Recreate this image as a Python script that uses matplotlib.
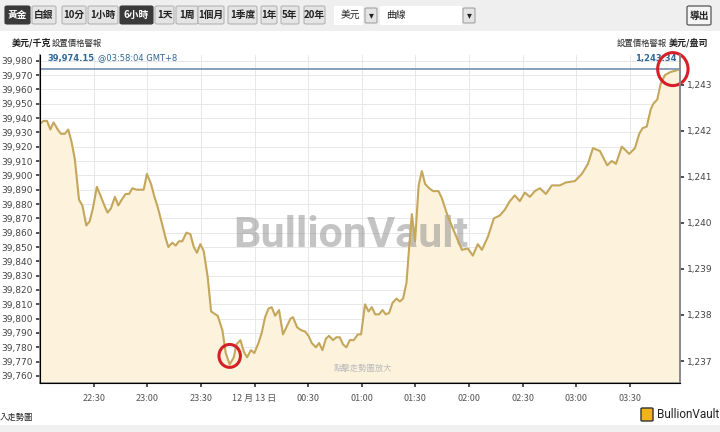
import matplotlib
matplotlib.use('Agg')
import matplotlib.pyplot as plt
from matplotlib.patches import FancyBboxPatch, Ellipse, Rectangle

cjk = ['Noto Sans CJK TC', 'DejaVu Sans']

# minutes after 22:00, price in USD/kg
minutes = [0, 2.0, 3.9, 5.8, 7.6, 9.9, 11.7, 13.9, 15.8, 17.7, 19.5, 21.8, 23.7, 25.9, 27.8,
           29.6, 31.8, 34.1, 36.0, 37.8, 39.7, 41.9, 43.8, 45.7, 47.9, 49.8, 51.7, 53.9, 58.0,
           59.8, 62.1, 64.0, 65.8, 68.1, 70.3, 71.8, 74.0, 75.9, 77.7, 79.6, 81.9, 84.1, 86.0,
           87.8, 89.7, 91.6, 93.8, 95.7, 99.4, 102.0, 103.9, 106.1, 108.4, 109.9, 112.1, 114.0,
           115.8, 118.0, 119.9, 122.2, 124.0, 125.9, 127.8, 129.6, 131.5, 133.7, 135.9, 138.2,
           140.1, 141.5, 143.8, 146.0, 148.3, 150.2, 152.0, 154.3, 156.1, 158.0, 159.9, 161.7,
           163.9, 165.8, 167.7, 169.5, 171.4, 173.3, 175.5, 177.8, 179.6, 181.8, 183.8, 185.6,
           187.5, 189.7, 191.6, 193.4, 195.3, 197.2, 199.4, 201.3, 203.1, 205.0, 206.5, 208.0,
           209.8, 211.8, 213.6, 215.4, 217.7, 219.9, 222.9, 224.8, 227.4, 229.3, 232.6, 236.0,
           239.3, 242.1, 244.9, 247.2, 250.5, 253.9, 257.2, 260.0, 262.8, 265.6, 268.4, 271.2,
           274.0, 276.8, 279.6, 283.0, 286.3, 290.8, 294.1, 299.2, 303.1, 306.5, 309.3, 313.2,
           317.3, 319.8, 322.2, 325.4, 327.2, 329.6, 332.8, 335.2, 337.1, 339.4, 341.6, 343.1,
           345.3, 347.2, 349.6, 352.4, 355.2, 358.0]
prices = [39936, 39938, 39938, 39932, 39937, 39932, 39929, 39929, 39932, 39923, 39911, 39883,
          39879, 39865, 39868, 39877, 39892, 39885, 39879, 39874, 39877, 39885, 39879, 39883,
          39887, 39887, 39891, 39890, 39890, 39901, 39894, 39885, 39878, 39867, 39856, 39850,
          39853, 39851, 39854, 39854, 39860, 39859, 39850, 39846, 39852, 39847, 39829, 39805,
          39802, 39792, 39776, 39768, 39773, 39782, 39785, 39777, 39773, 39778, 39776, 39783,
          39790, 39801, 39807, 39808, 39802, 39806, 39789, 39795, 39800, 39801, 39794, 39792,
          39791, 39788, 39783, 39780, 39783, 39778, 39786, 39788, 39785, 39787, 39787, 39782,
          39780, 39785, 39785, 39789, 39789, 39810, 39805, 39808, 39803, 39803, 39806, 39803,
          39804, 39811, 39814, 39812, 39814, 39825, 39850, 39873, 39854, 39893, 39903, 39894,
          39891, 39889, 39889, 39884, 39874, 39868, 39858, 39848, 39849, 39844, 39852, 39848,
          39857, 39870, 39872, 39876, 39882, 39886, 39882, 39888, 39885, 39889, 39891, 39887,
          39893, 39893, 39895, 39896, 39901, 39908, 39919, 39917, 39907, 39910, 39908, 39920,
          39918, 39915, 39919, 39929, 39933, 39934, 39946, 39950, 39953, 39964, 39970, 39972,
          39973, 39974.15]

last_price = 39974.15
last_oz = 1243.34
oz_per_kg = 32.1507

x_ticks = [30, 60, 90, 120, 150, 180, 210, 240, 270, 300, 330]
x_labels = ['22:30', '23:00', '23:30', '12 月 13 日', '00:30', '01:00', '01:30',
            '02:00', '02:30', '03:00', '03:30']
left_ticks = list(range(39760, 39990, 10))
right_ticks = [1237, 1238, 1239, 1240, 1241, 1242, 1243]

buttons = ['黃金', '白銀', '10分', '1小時', '6小時', '1天', '1周', '1個月', '1季度', '1年', '5年', '20年']
selected = ['黃金', '6小時']

fig = plt.figure(figsize=(7.2, 4.32), dpi=100)
fig.patch.set_facecolor('white')

W, H = 720.0, 432.0

def fx(px):
    return px / W

def fy(py):
    return 1 - py / H

# top toolbar
fig.patches.append(Rectangle((0, fy(31)), 1, 31 / H, transform=fig.transFigure,
                             facecolor='#efefef', edgecolor='none', zorder=0))
fig.patches.append(Rectangle((0, 0), 1, 7 / H, transform=fig.transFigure,
                             facecolor='#f0f0f0', edgecolor='none', zorder=0))
btn_x = [5, 32, 62, 88, 120, 155, 176, 198, 228, 261, 281, 304]
btn_w = [25, 24, 24, 30, 33, 19, 22, 26, 29, 16, 18, 21]
for name, bx, bw in zip(buttons, btn_x, btn_w):
    sel = name in selected
    fig.patches.append(FancyBboxPatch((fx(bx), fy(24)), bw / W, 18 / H,
                                      boxstyle='round,pad=0,rounding_size=0.003',
                                      transform=fig.transFigure,
                                      facecolor='#3a3a3a' if sel else '#e4e4e4',
                                      edgecolor='#3a3a3a' if sel else '#b5b5b5', lw=0.8))
    fig.text(fx(bx + bw / 2), fy(15), name, ha='center', va='center', fontsize=7,
             color='white' if sel else '#222222', family=cjk, weight='bold')

# dropdowns
fig.patches.append(Rectangle((fx(334), fy(25)), 29 / W, 19 / H, transform=fig.transFigure,
                             facecolor='white', edgecolor='none'))
fig.text(fx(341), fy(15), '美元', ha='left', va='center', fontsize=7, family=cjk, color='#222')
fig.patches.append(Rectangle((fx(380), fy(25)), 82 / W, 19 / H, transform=fig.transFigure,
                             facecolor='white', edgecolor='none'))
fig.text(fx(386), fy(15), '曲線', ha='left', va='center', fontsize=7, family=cjk, color='#222')
for ax_x in [365, 463]:
    fig.patches.append(FancyBboxPatch((fx(ax_x), fy(23)), 12 / W, 15 / H,
                                      boxstyle='round,pad=0,rounding_size=0.002',
                                      transform=fig.transFigure,
                                      facecolor='#e4e4e4', edgecolor='#999999', lw=0.7))
    fig.text(fx(ax_x + 6), fy(15.5), '▾', ha='center', va='center', fontsize=7, color='#222')
fig.patches.append(FancyBboxPatch((fx(687), fy(25)), 24 / W, 19 / H,
                                  boxstyle='round,pad=0,rounding_size=0.003',
                                  transform=fig.transFigure,
                                  facecolor='#f4f4f4', edgecolor='#555555', lw=0.9))
fig.text(fx(699), fy(15.5), '導出', ha='center', va='center', fontsize=7, family=cjk,
         color='#222', weight='bold')

# unit labels
fig.text(fx(12), fy(43), '美元/千克', ha='left', va='center', fontsize=6.5, family=cjk,
         color='#222', weight='bold')
fig.text(fx(52), fy(43), '設置價格警報', ha='left', va='center', fontsize=6, family=cjk,
         color='#333')
fig.text(fx(708), fy(43), '美元/盎司', ha='right', va='center', fontsize=6.5, family=cjk,
         color='#222', weight='bold')
fig.text(fx(667), fy(43), '設置價格警報', ha='right', va='center', fontsize=6, family=cjk,
         color='#333')

ax = fig.add_axes([fx(40), fy(382.7), (680 - 40) / W, (382.7 - 55) / H])
ax.set_xlim(0, 358)
ax.set_ylim(39755.3, 39984)
ax.set_facecolor('white')

ax.fill_between(minutes, prices, 39700, color='#fdf3dc', zorder=1)
ax.plot(minutes, prices, color='#c4a75c', lw=1.5, zorder=3)
ax.axhline(last_price, color='#7d9bb3', lw=1.3, zorder=4)

ax.text(0.485, 0.45, 'BullionVault', transform=ax.transAxes, ha='center', va='center',
        fontsize=31, color='#8a8a8a', alpha=0.5, family='Roboto', weight='bold', zorder=2)
ax.text(0.505, 0.045, '點擊走勢圖放大', transform=ax.transAxes, ha='center', va='center',
        fontsize=6, color='#bbbbbb', family=cjk, zorder=2)

t_last = ax.text(0.012, 0.977, f'{last_price:,.2f}', transform=ax.transAxes, ha='left',
                 va='bottom', fontsize=6, color='#2f6797', weight='bold', zorder=5)
ax.annotate('@03:58:04 GMT+8', xy=(1, 0), xycoords=t_last, xytext=(2, 0),
            textcoords='offset points', ha='left', va='bottom', fontsize=6,
            color='#2f6797', zorder=5)
ax.text(0.995, 0.977, f'{last_oz:,.2f}', transform=ax.transAxes, ha='right',
        va='bottom', fontsize=6, color='#2f6797', weight='bold', zorder=5)

ax.set_xticks(x_ticks)
ax.set_xticklabels(x_labels, family=cjk)
ax.set_yticks(left_ticks)
ax.set_yticklabels([f'{v:,}' for v in left_ticks])
ax.grid(True, color='#e8e8e8', lw=0.7, zorder=0)
ax.set_axisbelow(True)
ax.tick_params(axis='x', labelsize=6.5, labelcolor='#555555', length=3, width=1.2,
               color='#333333', pad=5)
ax.tick_params(axis='y', labelsize=6.5, labelcolor='#444444', length=3, width=1.2,
               color='#333333', pad=2)
ax.spines['top'].set_visible(False)
for s in ['left', 'bottom', 'right']:
    ax.spines[s].set_color('#8a8a8a')
    ax.spines[s].set_linewidth(1.2)

ax2 = ax.twinx()
ax2.set_ylim(39755.3 / oz_per_kg, 39984 / oz_per_kg)
ax2.set_yticks(right_ticks)
ax2.set_yticklabels([f'{v:,}' for v in right_ticks])
ax2.tick_params(axis='y', labelsize=6.5, labelcolor='#444444', length=3, width=1.2,
                color='#333333', pad=2)
ax2.spines['top'].set_visible(False)
ax2.spines['right'].set_color('#8a8a8a')
ax2.spines['right'].set_linewidth(1.2)

# red circles marking low and high
lo = prices.index(min(prices))
ax.add_patch(Ellipse((minutes[lo], min(prices) + 6), 12, 16, fill=False,
                     edgecolor='#d42027', lw=2.2, zorder=6))
ax.add_patch(Ellipse((minutes[-1] - 4, last_price), 17, 23, fill=False,
                     edgecolor='#d42027', lw=2.2, zorder=6, clip_on=False))

# bottom texts
fig.text(fx(0), fy(417), '入走勢圖', ha='left', va='center', fontsize=6, family=cjk,
         color='#222')
fig.patches.append(FancyBboxPatch((fx(641), fy(421)), 12 / W, 13 / H,
                                  boxstyle='round,pad=0,rounding_size=0.002',
                                  transform=fig.transFigure,
                                  facecolor='#f2b21b', edgecolor='#333333', lw=1))
fig.text(fx(719), fy(414), 'BullionVault', ha='right', va='center', fontsize=8.5,
         family='Roboto', color='#222')

fig.savefig('out.png', dpi=100)
